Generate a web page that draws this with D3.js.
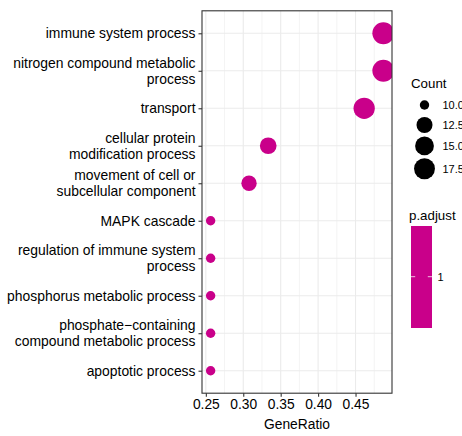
<!DOCTYPE html>
<html>
<head>
<meta charset="utf-8">
<script src="https://cdn.jsdelivr.net/npm/d3@7"></script>
<style>
  html, body { margin: 0; padding: 0; background: #fff; }
  svg { display: block; font-family: "Liberation Sans", Arial, Helvetica, sans-serif; }
</style>
</head>
<body>
<svg id="chart" width="462" height="436"></svg>
<script>
// GO enrichment terms, top to bottom
const terms = [
  "immune system process",
  "nitrogen compound metabolic process",
  "transport",
  "cellular protein modification process",
  "movement of cell or subcellular component",
  "MAPK cascade",
  "regulation of immune system process",
  "phosphorus metabolic process",
  "phosphate\u2212containing compound metabolic process",
  "apoptotic process"
];
// wrapped label lines for each term
const termLines = [
  ["immune system process"],
  ["nitrogen compound metabolic", "process"],
  ["transport"],
  ["cellular protein", "modification process"],
  ["movement of cell or", "subcellular component"],
  ["MAPK cascade"],
  ["regulation of immune system", "process"],
  ["phosphorus metabolic process"],
  ["phosphate\u2212containing", "compound metabolic process"],
  ["apoptotic process"]
];
const counts = [19, 19, 18, 13, 12, 10, 10, 10, 10, 10];
const setSize = 39;
const geneRatio = counts.map(c => c / setSize);
const pAdjust = [1, 1, 1, 1, 1, 1, 1, 1, 1, 1];

const xTicks = [0.25, 0.30, 0.35, 0.40, 0.45];
const xMinor = [0.275, 0.325, 0.375, 0.425, 0.475];
const sizeBreaks = [10.0, 12.5, 15.0, 17.5];
const pTicks = [1];

const dotColor = "#C9008A";

const svg = d3.select("#chart");
const panel = { left: 202, right: 392, top: 10.8, bottom: 393.2 };

// x: gene ratio with 5% expansion on each side
const xMin = d3.min(geneRatio), xMax = d3.max(geneRatio);
const xPad = (xMax - xMin) * 0.05;
const x = d3.scaleLinear().domain([xMin - xPad, xMax + xPad]).range([panel.left, panel.right]);

const y = d3.scalePoint().domain(terms).range([panel.top, panel.bottom]).padding(0.6);

// point radius grows with sqrt of the rescaled count
const cMin = d3.min(counts), cMax = d3.max(counts);
const rLin = d3.scaleLinear().domain([0, 1]).range([4.7, 11]);
const radius = c => rLin(Math.sqrt((c - cMin) / (cMax - cMin)));

// grid
const grid = svg.append("g");
grid.selectAll(".minor").data(xMinor).join("line")
  .attr("x1", d => x(d)).attr("x2", d => x(d))
  .attr("y1", panel.top).attr("y2", panel.bottom)
  .attr("stroke", "#EBEBEB").attr("stroke-width", 0.6);
grid.selectAll(".majx").data(xTicks).join("line")
  .attr("x1", d => x(d)).attr("x2", d => x(d))
  .attr("y1", panel.top).attr("y2", panel.bottom)
  .attr("stroke", "#EBEBEB").attr("stroke-width", 1.1);
grid.selectAll(".majy").data(terms).join("line")
  .attr("x1", panel.left).attr("x2", panel.right)
  .attr("y1", d => y(d)).attr("y2", d => y(d))
  .attr("stroke", "#EBEBEB").attr("stroke-width", 1.1);

// points, clipped to the panel
svg.append("clipPath").attr("id", "clip").append("rect")
  .attr("x", panel.left).attr("y", panel.top)
  .attr("width", panel.right - panel.left).attr("height", panel.bottom - panel.top);
svg.append("g").attr("clip-path", "url(#clip)")
  .selectAll("circle").data(terms).join("circle")
  .attr("cx", (d, i) => x(geneRatio[i]))
  .attr("cy", d => y(d))
  .attr("r", (d, i) => radius(counts[i]))
  .attr("fill", dotColor);

// panel border
svg.append("rect")
  .attr("x", panel.left).attr("y", panel.top)
  .attr("width", panel.right - panel.left).attr("height", panel.bottom - panel.top)
  .attr("fill", "none").attr("stroke", "#333333").attr("stroke-width", 1.1);

// x axis
const xAxis = svg.append("g").attr("transform", `translate(0,${panel.bottom})`)
  .call(d3.axisBottom(x).tickValues(xTicks).tickFormat(d3.format(".2f")).tickSize(3.5).tickPadding(3));
xAxis.select(".domain").remove();
xAxis.selectAll(".tick line").attr("stroke", "#333333").attr("stroke-width", 1.1);
xAxis.selectAll(".tick text").attr("fill", "#000").style("font-size", "13.8px");

svg.append("text").attr("x", (panel.left + panel.right) / 2).attr("y", 429)
  .attr("text-anchor", "middle").style("font-size", "13.8px").attr("fill", "#000")
  .text("GeneRatio");

// y axis
const yAxis = svg.append("g").attr("transform", `translate(${panel.left},0)`)
  .call(d3.axisLeft(y).tickSize(3.5).tickFormat(""));
yAxis.select(".domain").remove();
yAxis.selectAll(".tick line").attr("stroke", "#333333").attr("stroke-width", 1.1);

const lineH = 15.8;
svg.append("g").selectAll("text").data(terms).join("text")
  .attr("text-anchor", "end")
  .attr("x", panel.left - 6.5)
  .attr("y", d => y(d))
  .style("font-size", "13.9px").attr("fill", "#000")
  .each(function (d, i) {
    const lines = termLines[i];
    const t = d3.select(this);
    const y0 = y(d) - (lines.length - 1) * lineH / 2 + 4.9;
    lines.forEach((ln, k) => {
      t.append("tspan").attr("x", panel.left - 6.5).attr("y", y0 + k * lineH).text(ln);
    });
  });

// Count legend
const lg = svg.append("g");
lg.append("text").attr("x", 411).attr("y", 88).style("font-size", "13.3px").attr("fill", "#000").text("Count");
let yy = 105;
const keyH = s => Math.max(20, 2 * radius(s) + 3);
const keyY = sizeBreaks.map((s, i) => {
  if (i > 0) yy += (keyH(sizeBreaks[i - 1]) + keyH(s)) / 2;
  return yy;
});
lg.selectAll("circle").data(sizeBreaks).join("circle")
  .attr("cx", 424.5).attr("cy", (d, i) => keyY[i]).attr("r", d => radius(d)).attr("fill", "#000");
lg.selectAll(".lab").data(sizeBreaks).join("text")
  .attr("x", 442.5).attr("y", (d, i) => keyY[i] + 3.9)
  .style("font-size", "11px").attr("fill", "#000")
  .text(d => d3.format(".1f")(d));

// p.adjust colour bar
const cb = svg.append("g");
cb.append("text").attr("x", 409).attr("y", 220).style("font-size", "13.3px").attr("fill", "#000").text("p.adjust");
const cbTop = 226, cbBot = 328, cbL = 411, cbR = 432;
const pScale = d3.scaleLinear().domain([d3.min(pAdjust) - 1, d3.max(pAdjust) + 1]).range([cbBot, cbTop]);
cb.append("rect").attr("x", cbL).attr("y", cbTop).attr("width", cbR - cbL).attr("height", cbBot - cbTop).attr("fill", dotColor);
pTicks.forEach(t => {
  const ty = pScale(t) - 0.3;
  cb.append("line").attr("x1", cbL).attr("x2", cbL + 4.2).attr("y1", ty).attr("y2", ty).attr("stroke", "#fff").attr("stroke-opacity", 0.75).attr("stroke-width", 1);
  cb.append("line").attr("x1", cbR - 4.2).attr("x2", cbR).attr("y1", ty).attr("y2", ty).attr("stroke", "#fff").attr("stroke-opacity", 0.75).attr("stroke-width", 1);
  cb.append("text").attr("x", 437.5).attr("y", ty + 3.9).style("font-size", "11px").attr("fill", "#000").text(t);
});
</script>
</body>
</html>
